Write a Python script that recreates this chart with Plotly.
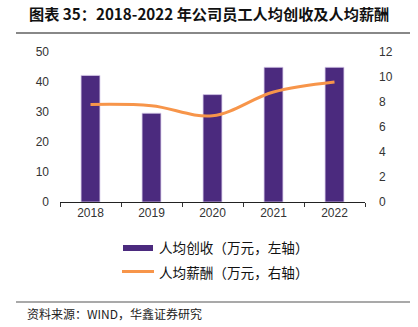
import plotly.graph_objects as go

years = ["2018", "2019", "2020", "2021", "2022"]
revenue_per_capita = [42.2, 29.6, 35.8, 44.9, 44.9]
salary_per_capita = [7.8, 7.7, 6.9, 8.8, 9.6]
left_ticks = [0, 10, 20, 30, 40, 50]
right_ticks = [0, 2, 4, 6, 8, 10, 12]

PURPLE = "#4B2A7E"
ORANGE = "#F7954A"
TICKFONT = dict(family="Liberation Sans, Arial", size=12, color="#333333")

W, H = 305.0, 150.0  # plot area in px
def px(x):  # pixel x -> paper
    return (x - 60) / W
def py(y):  # pixel y -> paper
    return (202 - y) / H

fig = go.Figure()
fig.add_trace(go.Bar(
    x=years, y=revenue_per_capita, name="人均创收（万元，左轴）",
    marker=dict(color=PURPLE, line=dict(color="#D8CCEA", width=0.8)),
    width=0.31, yaxis="y", showlegend=False,
))
fig.add_trace(go.Scatter(
    x=years, y=salary_per_capita, name="人均薪酬（万元，右轴）",
    mode="lines", line=dict(color=ORANGE, width=3, shape="spline", smoothing=1.0),
    yaxis="y2", showlegend=False,
))

fig.update_layout(
    width=418, height=327,
    margin=dict(l=60, r=53, t=52, b=125),
    paper_bgcolor="white", plot_bgcolor="white",
    xaxis=dict(
        type="category", tickson="boundaries", ticks="outside", ticklen=4,
        tickcolor="#333333", showline=True, linecolor="#222222", linewidth=1,
        showgrid=False, tickfont=TICKFONT,
    ),
    yaxis=dict(
        range=[0, 50], tickvals=left_ticks, showgrid=False, zeroline=False,
        showline=False, ticks="", tickfont=TICKFONT, ticklabelstandoff=10,
    ),
    yaxis2=dict(
        range=[0, 12], tickvals=right_ticks, overlaying="y", side="right",
        showgrid=False, zeroline=False, showline=False, ticks="",
        tickfont=TICKFONT, ticklabelstandoff=13,
    ),
    font=dict(family="Noto Sans CJK SC"),
)

fig.add_annotation(
    text="<b>图表 35：2018-2022 年公司员工人均创收及人均薪酬</b>",
    xref="paper", yref="paper", x=px(27), y=py(13), xanchor="left", yanchor="middle",
    showarrow=False, font=dict(family="Noto Sans CJK SC", size=15.2, color="#111111"),
)
fig.add_shape(type="line", xref="paper", yref="paper", x0=px(16), x1=px(410),
              y0=py(33), y1=py(33), line=dict(color="#888888", width=2))
fig.add_shape(type="line", xref="paper", yref="paper", x0=px(16), x1=px(410),
              y0=py(302), y1=py(302), line=dict(color="#555555", width=1.2))

fig.add_shape(type="rect", xref="paper", yref="paper",
              x0=px(123), x1=px(153), y0=py(245), y1=py(251),
              fillcolor=PURPLE, line=dict(width=0))
fig.add_shape(type="line", xref="paper", yref="paper",
              x0=px(122), x1=px(154), y0=py(271.5), y1=py(271.5),
              line=dict(color=ORANGE, width=3))
fig.add_annotation(text="人均创收（万元，左轴）", xref="paper", yref="paper",
                   x=px(157), y=py(247.5), xanchor="left", yanchor="middle",
                   showarrow=False, font=dict(family="Noto Sans CJK SC", size=13.6, color="#111111"))
fig.add_annotation(text="人均薪酬（万元，右轴）", xref="paper", yref="paper",
                   x=px(157), y=py(271.5), xanchor="left", yanchor="middle",
                   showarrow=False, font=dict(family="Noto Sans CJK SC", size=13.6, color="#111111"))
fig.add_annotation(text="资料来源：WIND，华鑫证券研究", xref="paper", yref="paper",
                   x=px(25), y=py(313), xanchor="left", yanchor="middle",
                   showarrow=False, font=dict(family="Noto Sans CJK SC", size=12, color="#222222"))

fig.write_html("out.html")
